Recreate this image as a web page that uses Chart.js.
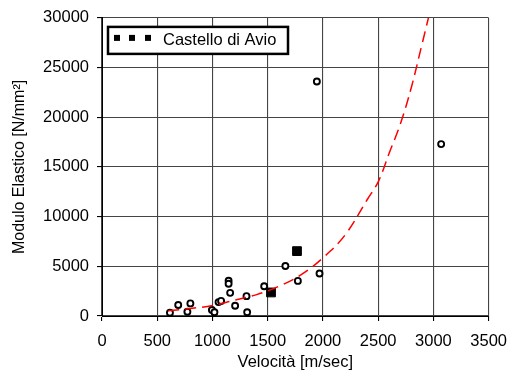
<!DOCTYPE html>
<html>
<head>
<meta charset="utf-8">
<script src="https://cdn.jsdelivr.net/npm/chart.js@4/dist/chart.umd.min.js"></script>
<style>
  html, body { margin: 0; padding: 0; background: #fff; }
  #wrap { width: 518px; height: 372px; }
</style>
</head>
<body>
<div id="wrap"><canvas id="chart" width="518" height="372"></canvas></div>
<script>
// measured points (open circles)
const velCircles = [615, 690, 773, 800, 995, 1018, 1055, 1078, 1146, 1146, 1160, 1205, 1308, 1314, 1468, 1660, 1773, 1969, 1945, 3070];
const modCircles = [330, 1100, 430, 1270, 600, 370, 1400, 1520, 3550, 3250, 2330, 1030, 2000, 370, 3000, 5030, 3530, 4270, 23600, 17300];

// Castello di Avio (filled squares)
const velAvio = [1530, 1765];
const modAvio = [2370, 6530];

// red dashed trend curve
const velCurve = [600, 800, 1000, 1200, 1400, 1600, 1800, 2000, 2200, 2400, 2500, 2600, 2700, 2800, 2900, 2955];
const modCurve = [520, 760, 1050, 1600, 2150, 2980, 4130, 5850, 8150, 11700, 13500, 16400, 19300, 23000, 27500, 30000];

const xTicks = [0, 3500, 500];
const yTicks = [0, 30000, 5000];
const legendLabel = "Castello di Avio";

const toPts = (xs, ys) => xs.map((x, i) => ({ x: x, y: ys[i] }));
const FONT = "'Liberation Sans', Arial, sans-serif";
const plain = v => String(v); // no thousands separator

// boxed legend with three little squares, drawn top-left inside the plot
const boxLegend = {
    id: "boxLegend",
    afterDraw(chart) {
        const ctx = chart.ctx;
        const a = chart.chartArea;
        const x = a.left + 6, y = a.top + 9, w = 180, h = 27;
        ctx.save();
        ctx.fillStyle = "#fff";
        ctx.fillRect(x, y, w, h);
        ctx.lineWidth = 2.5;
        ctx.strokeStyle = "#000";
        ctx.strokeRect(x, y, w, h);
        ctx.fillStyle = "#000";
        [6, 21, 37].forEach(dx => ctx.fillRect(x + dx, y + 8, 6, 6));
        ctx.font = "16.5px " + FONT;
        ctx.textBaseline = "middle";
        ctx.fillText(legendLabel, x + 55, y + h / 2 + 0.5);
        ctx.restore();
    }
};

new Chart(document.getElementById("chart"), {
    type: "scatter",
    data: {
        datasets: [
            {
                label: "curve",
                data: toPts(velCurve, modCurve),
                showLine: true,
                borderColor: "#ff0000",
                borderWidth: 1.5,
                borderDash: [11, 6],
                pointRadius: 0,
                tension: 0.4,
                order: 0
            },
            {
                label: legendLabel,
                data: toPts(velAvio, modAvio),
                pointStyle: "rect",
                pointRadius: 6.2,
                backgroundColor: "#000",
                borderColor: "#000",
                borderWidth: 1,
                order: 1
            },
            {
                label: "dati",
                data: toPts(velCircles, modCircles),
                pointStyle: "circle",
                pointRadius: 3,
                backgroundColor: "#fff",
                borderColor: "#000",
                borderWidth: 1.9,
                order: 2
            }
        ]
    },
    options: {
        responsive: false,
        animation: false,
        layout: { padding: { left: 0, right: 22, top: 17, bottom: 0 } },
        plugins: {
            legend: { display: false },
            tooltip: { enabled: false }
        },
        scales: {
            x: {
                type: "linear",
                min: xTicks[0],
                max: xTicks[1],
                afterFit: s => { s.height = 56; },
                ticks: { stepSize: xTicks[2], callback: plain, color: "#000", padding: 11, font: { family: FONT, size: 16.5 } },
                grid: { color: "#444", lineWidth: 1.1, tickColor: "#000", tickLength: 5 },
                border: { color: "#000", width: 1 },
                title: { display: true, text: "Velocità [m/sec]", color: "#000", padding: { top: 0, bottom: 0 }, font: { family: FONT, size: 16.5 } }
            },
            y: {
                type: "linear",
                min: yTicks[0],
                max: yTicks[1],
                afterFit: s => { s.width = 102; },
                ticks: { stepSize: yTicks[2], callback: plain, color: "#000", padding: 8, font: { family: FONT, size: 16.5 } },
                grid: { color: "#444", lineWidth: 1.1, tickColor: "#000", tickLength: 5 },
                border: { color: "#000", width: 1 },
                title: { display: true, text: "Modulo Elastico [N/mm²]", color: "#000", padding: { top: 10, bottom: 0 }, font: { family: FONT, size: 16 } }
            }
        }
    },
    plugins: [boxLegend]
});
</script>
</body>
</html>
